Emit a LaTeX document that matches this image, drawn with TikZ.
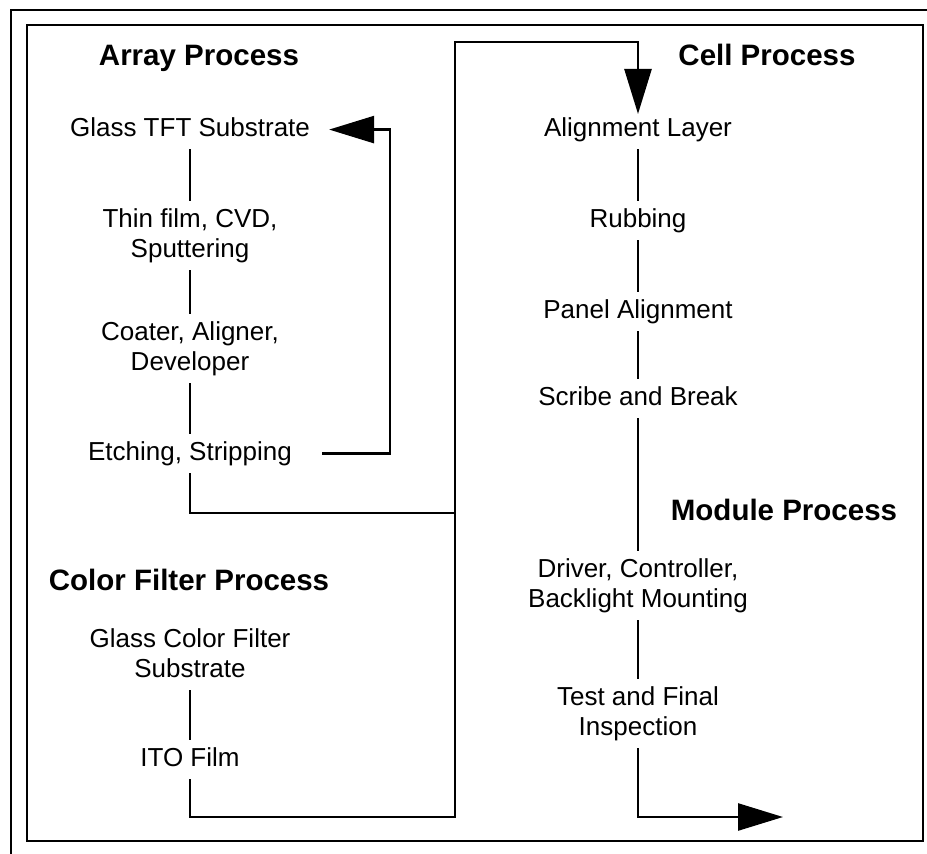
\documentclass[tikz,border=0pt]{standalone}
\usepackage{fontspec}
\setmainfont{Liberation Sans}
\usetikzlibrary{arrows.meta}
\begin{document}
\begin{tikzpicture}[x=1pt,y=-1pt,
  txt/.style={font=\fontsize{26}{30}\selectfont, align=center, inner sep=7pt, text depth=6pt, anchor=base},
  ttl/.style={font=\fontsize{29.5}{34}\selectfont\bfseries, inner sep=0pt, anchor=base},
  conn/.style={line width=2.6pt},
  tip/.style={-{Triangle[length=45pt,width=27pt]}},
  frame/.style={line width=1.6pt}]
\useasboundingbox (0,0) rectangle (927,854);
\draw[frame] (11,854) -- (11,10) -- (927,10);
\draw[frame] (27,25) rectangle (923,841);

% titles
\node[ttl] (tarr) at (199,65) {Array Process};
\node[ttl] (tcell) at (767,65) {Cell Process};
\node[ttl] (tmod) at (784,520) {Module Process};
\node[ttl] (tcf) at (189,590) {Color Filter Process};

% array column
\node[txt] (glass) at (190,136) {Glass TFT Substrate};
\node[txt] (thin) at (190,257) {Thin film, CVD,\\Sputtering};
\node[txt] (coat) at (190,370) {Coater, Aligner,\\Developer};
\node[txt] (etch) at (190,460) {Etching, Stripping};

% color filter column
\node[txt] (gcf) at (190,677) {Glass Color Filter\\Substrate};
\node[txt] (ito) at (190,766) {ITO Film};

% cell / module column
\node[txt] (align) at (638,136) {Alignment Layer};
\node[txt] (rub) at (638,227) {Rubbing};
\node[txt] (panel) at (638,318) {Panel Alignment};
\node[txt] (scribe) at (638,405) {Scribe and Break};
\node[txt] (driver) at (638,607) {Driver, Controller,\\Backlight Mounting};
\node[txt] (test) at (638,735) {Test and Final\\Inspection};

\coordinate (loopx) at (390,300);
\coordinate (jm) at (455,513);
\coordinate (jb) at (455,817);
\coordinate (ct) at (638,42);
\coordinate (endp) at (783,817);

\draw[conn] (glass.south) -- (thin.north);
\draw[conn] (thin.south) -- (coat.north);
\draw[conn] (coat.south) -- (etch.north);
\draw[conn,tip] ([xshift=23pt]etch.east) -| (loopx) |- ([xshift=12pt]glass.east);
\draw[conn] (etch.south) |- (jm);

\draw[conn] (gcf.south) -- (ito.north);
\draw[conn,tip,shorten >=-4pt] (ito.south) |- (jb) |- (ct) -- (align.north);

\draw[conn] (align.south) -- (rub.north);
\draw[conn] (rub.south) -- (panel.north);
\draw[conn] (panel.south) -- (scribe.north);
\draw[conn] (scribe.south) -- (driver.north);
\draw[conn] (driver.south) -- (test.north);
\draw[conn,tip] (test.south) |- (endp);
\end{tikzpicture}
\end{document}
